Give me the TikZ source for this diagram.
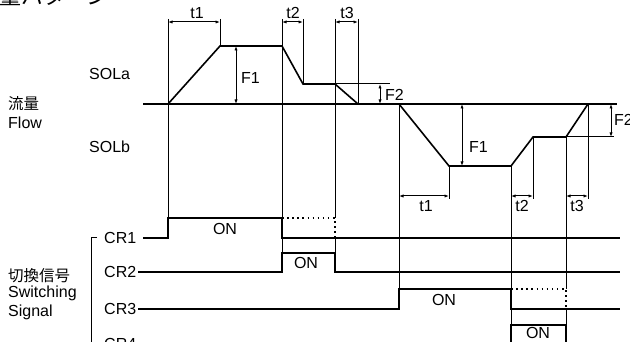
\documentclass[tikz,border=0pt]{standalone}
\usepackage{fontspec}
\setmainfont{Liberation Sans}
\newfontfamily\jpfont{Noto Sans CJK JP}
\usetikzlibrary{positioning,arrows.meta}

\tikzset{
  lbl/.style={font=\fontsize{16}{18}\selectfont, inner sep=0pt},
  jplbl/.style={font=\jpfont\fontsize{15.5}{17}\selectfont, inner sep=0pt},
  wave/.style={line width=1.6pt, line join=miter},
  sig/.style={line width=1.3pt},
  guide/.style={line width=1pt},
  offline/.style={line width=1.5pt, dash pattern=on 1.5pt off 3.6pt},
  dimarrow/.style={line width=1pt, {Latex[length=4.5pt,width=3.2pt]}-{Latex[length=4.5pt,width=3.2pt]}}
}

\begin{document}
\begin{tikzpicture}[x=1pt,y=-1pt]
\useasboundingbox (0,0) rectangle (630,342);

% titles and row labels
\draw (-23,4.5) node[anchor=base west, font=\jpfont\fontsize{22}{24}\selectfont, inner sep=0pt] (title) {流量パターン};
\draw (8,104) node[jplbl, anchor=west] (flowjp) {流量};
\draw (8,123) node[lbl, anchor=west] (flowen) {Flow};
\draw (89,74) node[lbl, anchor=west] (sola) {SOLa};
\draw (89,147) node[lbl, anchor=west] (solb) {SOLb};
\draw (8,276) node[jplbl, anchor=west] (swjp) {切換信号};
\draw (8,293) node[lbl, anchor=west] (swen) {Switching};
\draw (8,312) node[lbl, anchor=west] (sigen) {Signal};
\draw (104,238) node[lbl, anchor=west] (cr1) {CR1};
\draw (104,272) node[lbl, anchor=west] (cr2) {CR2};
\draw (104,309) node[lbl, anchor=west] (cr3) {CR3};
\draw (104,344) node[lbl, anchor=west] (cr4) {CR4};

% flow curves
\draw[wave] (143,104) -- (617,104);
\draw[wave] (168,104) -- (220,46) -- (282,46) -- (303,84) -- (335,84) -- (358,104);
\draw[wave] (399,104) -- (449,166) -- (511,166) -- (533,137) -- (566,137) -- (588,104);
\draw[guide] (335,84) -- (390,84);
\draw[guide] (566,137) -- (614,137);

% switching signals
\draw[guide] (97,238) -- (91,238) -- (91,350);
\draw[sig] (143,238) -- (168,238) -- (168,218) -- (282,218) -- (282,238) -- (620,238);
\draw[sig] (138,272) -- (282,272) -- (282,253) -- (335,253) -- (335,272) -- (620,272);
\draw[sig] (138,309) -- (399,309) -- (399,289) -- (511,289) -- (511,309) -- (620,309);
\draw[sig] (138,344) -- (511,344) -- (511,325) -- (566,325) -- (566,344) -- (620,344);
\draw[offline] (282,218) -- (335,218) -- (335,238);
\draw[offline] (511,289) -- (566,289) -- (566,309);
\draw (225,229) node[lbl] (on1) {ON};
\draw (306,263) node[lbl] (on2) {ON};
\draw (444,300) node[lbl] (on3) {ON};
\draw (538,333) node[lbl] (on4) {ON};

% timing lines
\draw[guide] (168,19) -- (168,218);
\draw[guide] (220,19) -- (220,46);
\draw[guide] (282,19) -- (282,253);
\draw[guide] (303,19) -- (303,84);
\draw[guide] (335,19) -- (335,218);
\draw[guide] (335,238) -- (335,253);
\draw[guide] (358,19) -- (358,104);
\draw[guide] (399,104) -- (399,289);
\draw[guide] (449,166) -- (449,199);
\draw[guide] (511,166) -- (511,325);
\draw[guide] (533,137) -- (533,199);
\draw[guide] (566,137) -- (566,289);
\draw[guide] (566,309) -- (566,325);
\draw[guide] (588,104) -- (588,199);

% times and flow steps
\draw[dimarrow] (168,22) -- (220,22);
\draw[dimarrow] (282,22) -- (303,22);
\draw[dimarrow] (335,22) -- (358,22);
\draw (197,13) node[lbl] (t1a) {t1};
\draw (293,13) node[lbl] (t2a) {t2};
\draw (347,13) node[lbl] (t3a) {t3};
\draw[dimarrow] (236,46) -- (236,104);
\draw[dimarrow] (380,84) -- (380,104);
\draw (241,78) node[lbl, anchor=west] (f1a) {F1};
\draw (385,95) node[lbl, anchor=west] (f2a) {F2};
\draw[dimarrow] (399,196) -- (449,196);
\draw[dimarrow] (511,196) -- (533,196);
\draw[dimarrow] (566,196) -- (588,196);
\draw (426,206) node[lbl] (t1b) {t1};
\draw (522,206) node[lbl] (t2b) {t2};
\draw (577,206) node[lbl] (t3b) {t3};
\draw[dimarrow] (462,104) -- (462,166);
\draw[dimarrow] (611,104) -- (611,137);
\draw (469,147) node[lbl, anchor=west] (f1b) {F1};
\draw (614,120) node[lbl, anchor=west] (f2b) {F2};
\end{tikzpicture}
\end{document}
